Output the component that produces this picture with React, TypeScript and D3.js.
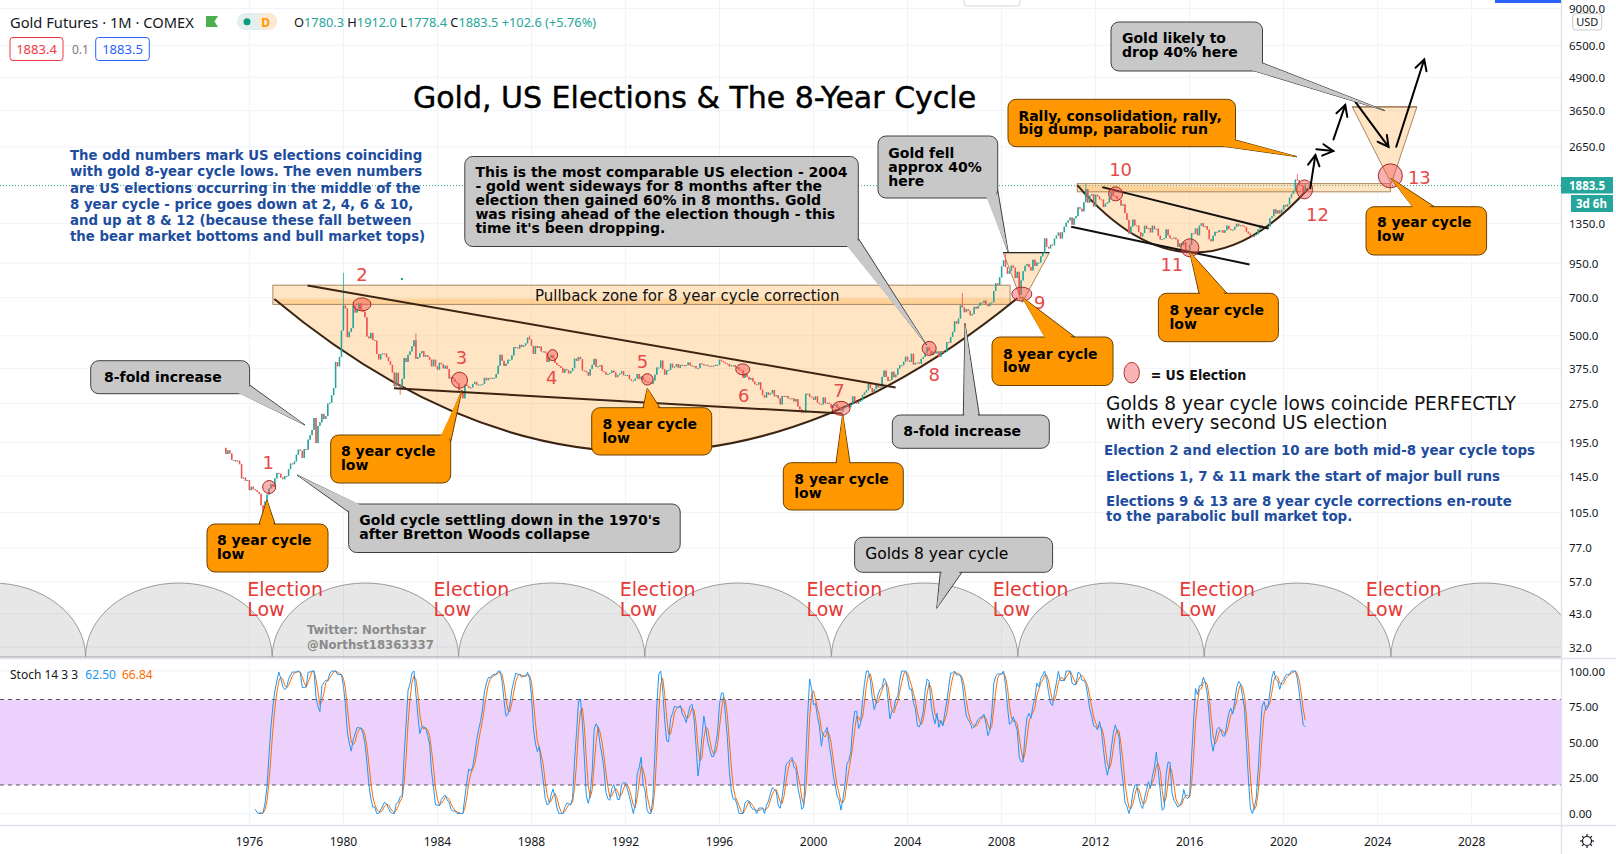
import React from 'react';
import * as d3 from 'd3';

const W = 1616;
const H = 854;

// ---- data (monthly closes, COMEX gold) ----
const firstYear = 1975;
const firstOpen = 186;
const closes1970s = [
  [176, 182, 177, 167, 167, 165, 166, 161, 142, 143, 139, 140],
  [128, 132, 129, 128, 126, 124, 112, 104, 116, 123, 130, 135],
  [132, 142, 149, 148, 143, 141, 145, 145, 154, 162, 161, 165],
  [175, 183, 181, 170, 184, 183, 200, 208, 218, 242, 194, 226],
  [233, 251, 240, 246, 275, 277, 296, 315, 397, 382, 415, 524],
];
const closes1980s = [
  [653, 637, 494, 518, 535, 653, 614, 631, 666, 629, 619, 589],
  [497, 489, 513, 482, 479, 426, 406, 425, 428, 427, 414, 400],
  [387, 362, 320, 361, 325, 317, 342, 411, 397, 423, 436, 456],
  [481, 408, 414, 429, 437, 416, 422, 415, 405, 382, 405, 382],
  [371, 394, 389, 375, 384, 373, 343, 347, 341, 333, 329, 309],
  [306, 288, 325, 321, 316, 317, 327, 333, 324, 325, 325, 327],
  [345, 338, 344, 345, 343, 345, 357, 384, 423, 401, 383, 391],
  [405, 405, 421, 453, 451, 447, 462, 453, 459, 468, 492, 484],
  [458, 426, 457, 449, 455, 436, 436, 430, 397, 413, 422, 410],
  [394, 387, 383, 377, 361, 373, 369, 359, 366, 376, 409, 401],
];
const closes1990s = [
  [415, 407, 368, 367, 363, 352, 373, 387, 408, 380, 382, 386],
  [366, 363, 355, 357, 360, 368, 362, 347, 354, 358, 366, 353],
  [354, 354, 341, 337, 337, 343, 357, 341, 349, 339, 334, 333],
  [330, 327, 337, 355, 378, 378, 402, 372, 355, 369, 370, 391],
  [378, 381, 390, 377, 387, 386, 383, 386, 395, 385, 383, 383],
  [375, 376, 392, 389, 385, 387, 383, 382, 384, 383, 387, 387],
  [405, 400, 396, 392, 390, 382, 385, 386, 379, 379, 371, 369],
  [345, 358, 348, 340, 345, 334, 326, 325, 332, 311, 296, 290],
  [304, 297, 301, 310, 293, 296, 288, 273, 294, 292, 294, 288],
  [287, 288, 280, 286, 268, 261, 256, 254, 300, 300, 292, 290],
];
const closes2000s = [
  [284, 293, 277, 274, 273, 290, 276, 277, 274, 265, 270, 273],
  [265, 267, 258, 264, 267, 271, 266, 273, 293, 279, 275, 279],
  [283, 297, 303, 309, 327, 315, 304, 312, 324, 317, 319, 348],
  [368, 348, 336, 339, 364, 347, 355, 375, 385, 386, 398, 416],
  [402, 397, 427, 388, 394, 395, 391, 408, 415, 429, 452, 438],
  [422, 435, 428, 436, 416, 437, 430, 434, 473, 470, 495, 518],
  [569, 556, 582, 655, 643, 616, 633, 624, 599, 606, 646, 636],
  [651, 670, 669, 682, 660, 650, 668, 673, 743, 795, 783, 838],
  [923, 975, 917, 865, 887, 930, 913, 833, 880, 718, 816, 884],
  [928, 942, 916, 891, 979, 927, 955, 955, 1008, 1040, 1182, 1097],
];
const closes2010s = [
  [1081, 1118, 1113, 1180, 1212, 1245, 1181, 1248, 1309, 1357, 1385, 1421],
  [1333, 1411, 1439, 1556, 1536, 1500, 1628, 1826, 1620, 1724, 1746, 1566],
  [1738, 1711, 1669, 1664, 1560, 1604, 1622, 1692, 1776, 1719, 1714, 1676],
  [1664, 1579, 1596, 1476, 1392, 1234, 1312, 1395, 1327, 1323, 1250, 1202],
  [1240, 1322, 1284, 1296, 1246, 1322, 1282, 1287, 1210, 1171, 1175, 1184],
  [1279, 1213, 1183, 1182, 1190, 1172, 1095, 1132, 1114, 1142, 1065, 1061],
  [1116, 1238, 1234, 1291, 1215, 1322, 1351, 1311, 1317, 1277, 1173, 1152],
  [1211, 1253, 1249, 1269, 1269, 1242, 1270, 1322, 1284, 1271, 1276, 1309],
  [1345, 1318, 1327, 1318, 1305, 1254, 1233, 1207, 1196, 1215, 1226, 1283],
  [1325, 1316, 1298, 1286, 1310, 1413, 1437, 1529, 1472, 1514, 1473, 1523],
];
const closes2020s = [
  [1588, 1566, 1596, 1694, 1751, 1800, 1986, 1978, 1895, 1880, 1780, 1883.5],
];
// wicks that stick out of the bodies
const wickHighs = [
  ['1980-01', 873], ['1983-02', 511], ['1987-12', 502], ['2006-05', 730], ['2008-03', 1033],
  ['2011-08', 1911], ['2012-10', 1796], ['2020-08', 2089], ['2020-12', 1912],
];
const wickLows = [
  ['1976-08', 103], ['1982-06', 297], ['1999-07', 252], ['2001-04', 255],
  ['2008-10', 681], ['2015-12', 1045], ['2020-12', 1778.4],
];

const yearTicks = [1976, 1980, 1984, 1988, 1992, 1996, 2000, 2004, 2008, 2012, 2016, 2020, 2024, 2028];
const priceTicks = [9000, 6500, 4900, 3650, 2650, 1350, 950, 700, 500, 375, 275, 195, 145, 105, 77, 57, 43, 32];
const stochTicks = [100, 75, 50, 25, 0];

// election markers (date, price) and their numbers
const electionDates = [1976.84, 1980.79, 1984.94, 1988.9, 1992.93, 1996.99, 2001.17, 2004.92, 2008.86, 2012.85, 2016.01, 2020.89, 2024.54];
const electionPrices = [131.6, 660, 338, 421.8, 340.5, 371.8, 263.6, 447.7, 722.6, 1751.7, 1087.7, 1821.5, 2053.5];
const electionRadii = [[6.5, 6.5], [9, 6.5], [8, 8], [5, 5.5], [5.7, 5.7], [7, 5.5], [9, 7], [7, 7], [10, 7], [7, 7], [9, 9], [8, 9.5], [12, 12]];
const labelOffsets = [[-1, -25], [0, -30], [2, -23], [-1, 22], [-5, -18], [1, 26], [-2, -18], [5, 26], [18, 8], [5, -24], [-18, 17], [13, 25], [29, 2]];

// 8-year time cycle lows (cusps of the grey arcs)
const cycleLows = [1961.1, 1969.03, 1976.97, 1984.9, 1992.82, 2000.76, 2008.69, 2016.62, 2024.56, 2032.5];

const stochK = 14;

// ---- scales ----
const PLOT_R = 1561;
const MAIN_B = 658;
const STOCH_B = 825;
const x = d3.scaleLinear().domain([1976, 2028]).range([249.4, 1471.7]);
const y = d3.scaleLog().domain([32, 6500]).range([647.2, 45.3]);
const ys = d3.scaleLinear().domain([0, 100]).range([813.5, 671]);

const UI = '"Noto Sans", "Open Sans", sans-serif';
const ANN = '"DejaVu Sans", sans-serif';
const ANN_C = '"DejaVu Sans Condensed", "DejaVu Sans", sans-serif';

function buildCandles() {
  const all = [...closes1970s, ...closes1980s, ...closes1990s, ...closes2000s, ...closes2010s, ...closes2020s];
  const hi = new Map(wickHighs as any);
  const lo = new Map(wickLows as any);
  const out: any[] = [];
  let prev = firstOpen;
  all.forEach((row, yi) => {
    row.forEach((c, m) => {
      const yr = firstYear + yi;
      const key = `${yr}-${String(m + 1).padStart(2, '0')}`;
      const o = prev;
      let h = Math.max(o, c);
      let l = Math.min(o, c);
      if (hi.has(key)) h = Math.max(h, hi.get(key) as number);
      if (lo.has(key)) l = Math.min(l, lo.get(key) as number);
      out.push({ t: yr + m / 12, o, h, l, c });
      prev = c;
    });
  });
  return out;
}

function stochastic(cs: any[]) {
  const raw = cs.map((d, i) => {
    if (i < stochK - 1) return null;
    const win = cs.slice(i - stochK + 1, i + 1);
    const hh = d3.max(win, (w) => w.h);
    const ll = d3.min(win, (w) => w.l);
    return hh === ll ? 50 : ((d.c - ll) / (hh - ll)) * 100;
  });
  const sma = (arr: any[]) =>
    arr.map((v, i) => {
      if (i < 2 || arr[i] == null || arr[i - 1] == null || arr[i - 2] == null) return null;
      return (arr[i] + arr[i - 1] + arr[i - 2]) / 3;
    });
  const k = sma(raw);
  const d = sma(k);
  return cs.map((c, i) => ({ t: c.t, k: k[i], d: d[i] }));
}

// callout boxes (layout in px)
const GRAY = { fill: '#c8c8c8', stroke: '#404040' };
const ORANGE = { fill: '#ff9800', stroke: '#6b4000' };
const callouts = [
  { ...ORANGE, x: 207, y: 524, w: 121, h: 48, tail: [[259, 524], [275, 524], [267, 500]], lx: 217, ly: [540, 553.5], lines: ['8 year cycle', 'low'] },
  { ...ORANGE, x: 330.7, y: 435, w: 120, h: 48, tail: [[443, 435], [450.7, 442], [462, 390]], lx: 341, ly: [451, 465], lines: ['8 year cycle', 'low'] },
  { ...ORANGE, x: 591.7, y: 407.7, w: 120, h: 47.3, tail: [[643, 407.7], [660, 407.7], [647.3, 388.3]], lx: 602.5, ly: [424, 437.7], lines: ['8 year cycle', 'low'] },
  { ...ORANGE, x: 783.3, y: 462.7, w: 120, h: 47.3, tail: [[836, 462.7], [850, 462.7], [842.7, 414]], lx: 794.3, ly: [479, 492.7], lines: ['8 year cycle', 'low'] },
  { ...ORANGE, x: 992, y: 337, w: 121, h: 48.5, tail: [[1045, 337], [1075, 337], [1022, 297]], lx: 1003, ly: [353.5, 367], lines: ['8 year cycle', 'low'] },
  { ...ORANGE, x: 1158.4, y: 293.3, w: 120, h: 48.4, tail: [[1199, 293.3], [1227, 293.3], [1189.6, 251.7]], lx: 1169.5, ly: [310, 324], lines: ['8 year cycle', 'low'] },
  { ...ORANGE, x: 1366, y: 206.7, w: 120.6, h: 48.3, tail: [[1412.6, 206.7], [1434.4, 206.7], [1391, 178.3]], lx: 1377, ly: [222, 236], lines: ['8 year cycle', 'low'] },
  { ...ORANGE, x: 1008, y: 99.3, w: 227.5, h: 47.4, tail: [[1226, 146.7], [1235.5, 140], [1297, 156.7]], lx: 1018.4, ly: [116, 129.3], lines: ['Rally, consolidation, rally,', 'big dump, parabolic run'] },
  { ...GRAY, x: 90.7, y: 360.7, w: 158.9, h: 33, tail: [[241, 393.7], [249.6, 385], [305, 425]], lx: 104, ly: [377], lines: ['8-fold increase'] },
  { ...GRAY, x: 348.6, y: 504, w: 331.6, h: 48.5, tail: [[357, 504], [348.6, 512], [297, 475]], lx: 359.3, ly: [520, 534], lines: ["Gold cycle settling down in the 1970's", 'after Bretton Woods collapse'] },
  { ...GRAY, x: 464.8, y: 156.5, w: 393.5, h: 90, tail: [[849.3, 246.5], [858.3, 238.3], [926.7, 345]], lx: 475.4, ly: [171.5, 185.7, 200, 214.2, 228], lines: ['This is the most comparable US election - 2004', '- gold went sideways for 8 months after the', 'election then gained 60% in 8 months. Gold', 'was rising ahead of the election though - this', "time it's been dropping."] },
  { ...GRAY, x: 878, y: 136, w: 119.7, h: 62, tail: [[988.3, 198], [997.7, 190], [1008.3, 252.7]], lx: 888.3, ly: [152.7, 166.7, 180.7], lines: ['Gold fell', 'approx 40%', 'here'] },
  { ...GRAY, x: 892.3, y: 415, w: 157, h: 33.3, tail: [[963.3, 415], [979.3, 415], [965, 323.3]], lx: 903.3, ly: [431], lines: ['8-fold increase'] },
  { ...GRAY, x: 854.6, y: 537.3, w: 198, h: 35, tail: [[940.3, 572.3], [962, 572.3], [936.7, 608.3]], lx: 865.3, ly: [554], lines: ['Golds 8 year cycle'], regular: true },
  { ...GRAY, x: 1111, y: 22, w: 151.5, h: 49, tail: [[1254.5, 71], [1262.5, 63], [1385, 110.7]], lx: 1122, ly: [38.3, 52.3], lines: ['Gold likely to', 'drop 40% here'] },
];

const leftNote = [
  'The odd numbers mark US elections coinciding',
  'with gold 8-year cycle lows. The even numbers',
  'are US elections occurring in the middle of the',
  '8 year cycle - price goes down at 2, 4, 6 & 10,',
  'and up at 8 & 12 (because these fall between',
  'the bear market bottoms and bull market tops)',
];
const rightBlue = [
  'Election 2 and election 10 are both mid-8 year cycle tops',
  'Elections 1, 7 & 11 mark the start of major bull runs',
  'Elections 9 & 13 are 8 year cycle corrections en-route',
  'to the parabolic bull market top.',
];

function Callout({ c }: any) {
  const pts = c.tail.map((p: number[]) => p.join(',')).join(' ');
  const cx = c.x + c.w / 2;
  const cy = c.y + c.h / 2;
  // base pushed a little into the box so the box border is hidden under the tail
  const inner = c.tail
    .map((p: number[], i: number) => {
      if (i === 2) return p.join(',');
      const dx = cx - p[0];
      const dy = cy - p[1];
      const len = Math.hypot(dx, dy) || 1;
      return `${p[0] + (dx / len) * 2.5},${p[1] + (dy / len) * 2.5}`;
    })
    .join(' ');
  return (
    <g>
      <polygon points={pts} fill={c.fill} stroke={c.stroke} strokeWidth={1} strokeLinejoin="round" />
      <rect x={c.x} y={c.y} width={c.w} height={c.h} rx={8} fill={c.fill} stroke={c.stroke} strokeWidth={1} />
      <polygon points={inner} fill={c.fill} />
      {c.lines.map((t: string, i: number) => (
        <text key={i} x={c.lx} y={c.ly[i]} dominantBaseline="central" fontFamily={ANN}
          fontSize={c.regular ? 15.5 : 14} fontWeight={c.regular ? 'normal' : 'bold'} fill="#000">
          {t}
        </text>
      ))}
    </g>
  );
}

function Arrow({ a, b }: any) {
  const x1 = x(a[0]), y1 = y(a[1]), x2 = x(b[0]), y2 = y(b[1]);
  const ang = Math.atan2(y2 - y1, x2 - x1);
  const L = 12, sp = 0.5;
  const h1 = [x2 - L * Math.cos(ang - sp), y2 - L * Math.sin(ang - sp)];
  const h2 = [x2 - L * Math.cos(ang + sp), y2 - L * Math.sin(ang + sp)];
  return (
    <g stroke="#000" strokeWidth={2} fill="none" strokeLinecap="round">
      <line x1={x1} y1={y1} x2={x2} y2={y2} />
      <polyline points={`${h1.join(',')} ${x2},${y2} ${h2.join(',')}`} />
    </g>
  );
}

// drawings tied to the chart, in (year, price)
const cup1 = { band: [1977.0, 2008.36, 660, 782], arc: [[1977.06, 691.5], [1992.66, 46.4], [2008.68, 697.6]] };
const cup2 = { band: [2011.22, 2024.54, 1783, 1917], arc: [[2011.22, 1892], [2016.11, 584.7], [2021.05, 1836]] };
const trendLines = [
  { a: [1978.47, 779], b: [2003.49, 317], color: '#3b2412' },
  { a: [1982.15, 315], b: [2001.22, 251.7], color: '#3b2412' },
  { a: [2012.28, 1858.6], b: [2019.35, 1288.7], color: '#111' },
  { a: [2010.96, 1308.9], b: [2018.55, 937.9], color: '#111' },
];
const funnels = [
  [[2008.07, 1042.6], [2010.03, 1042.6], [2008.88, 672]],
  [[2022.92, 3775], [2025.67, 3775], [2024.58, 1920]],
];
const arrows = [
  [[2021.13, 1842], [2021.35, 2465]],
  [[2021.39, 2598], [2022.11, 2554]],
  [[2022.12, 2831], [2022.62, 3834]],
  [[2023.05, 3946], [2024.46, 2653]],
  [[2024.79, 2653], [2025.98, 5738]],
];

const PEACH = 'rgba(255,160,40,0.28)';

function Cup({ cup }: any) {
  const [t0, t1, p0, p1] = cup.band;
  const [a, c, b] = cup.arc;
  const path = d3.path();
  path.moveTo(x(a[0]), y(a[1]));
  path.quadraticCurveTo(x(c[0]), y(c[1]), x(b[0]), y(b[1]));
  const arcD = path.toString();
  return (
    <g>
      <path d={arcD + 'Z'} fill={PEACH} stroke="none" />
      <rect x={x(t0)} y={y(p1)} width={x(t1) - x(t0)} height={y(p0) - y(p1)} fill={PEACH} stroke="#a98660" strokeWidth={1} />
      <path d={arcD} fill="none" stroke="#3b2412" strokeWidth={2} />
    </g>
  );
}

export default function App() {
  const candles = buildCandles();
  const st = stochastic(candles);
  const kLine = d3.line<any>().defined((d) => d.k != null).x((d) => x(d.t)).y((d) => ys(d.k));
  const dLine = d3.line<any>().defined((d) => d.d != null).x((d) => x(d.t)).y((d) => ys(d.d));
  const last = candles[candles.length - 1];

  return (
    <svg width={W} height={H} viewBox={`0 0 ${W} ${H}`} style={{ position: 'absolute', left: 0, top: 0, background: '#fff' }}>
      <defs>
        <clipPath id="mainClip"><rect x={0} y={0} width={PLOT_R} height={MAIN_B} /></clipPath>
        <clipPath id="stochClip"><rect x={0} y={MAIN_B + 1} width={PLOT_R} height={STOCH_B - MAIN_B - 1} /></clipPath>
      </defs>
      <rect x={0} y={0} width={W} height={H} fill="#fff" />

      {/* grid */}
      <g stroke="#f0f3fa" strokeWidth={1}>
        {yearTicks.map((t) => <line key={t} x1={x(t)} x2={x(t)} y1={0} y2={STOCH_B} />)}
        {priceTicks.map((p) => <line key={p} x1={0} x2={PLOT_R} y1={y(p)} y2={y(p)} />)}
        {stochTicks.map((s) => <line key={s} x1={0} x2={PLOT_R} y1={ys(s)} y2={ys(s)} />)}
      </g>

      <g clipPath="url(#mainClip)">
        {/* 8 year time cycles */}
        {cycleLows.slice(0, -1).map((c, i) => {
          const x0 = x(c), x1 = x(cycleLows[i + 1]);
          const rx = (x1 - x0) / 2;
          return <path key={c} d={`M${x0},657 A${rx},74 0 0 1 ${x1},657 Z`} fill="rgba(0,0,0,0.095)" stroke="#9a9a9a" strokeWidth={1} />;
        })}
        {cycleLows.slice(2, -1).map((c) => (
          <text key={c} fontFamily={ANN} fontSize={19} fill="#e53935">
            <tspan x={x(c) - 25} y={589} dominantBaseline="central">Election</tspan>
            <tspan x={x(c) - 25} y={609} dominantBaseline="central">Low</tspan>
          </text>
        ))}
        <text fontFamily={ANN_C} fontWeight="bold" fontSize={13} fill="#8a8a8a">
          <tspan x={307} y={629.5} dominantBaseline="central">Twitter: Northstar</tspan>
          <tspan x={307} y={644} dominantBaseline="central">@Northst18363337</tspan>
        </text>

        {/* last price line */}
        <line x1={0} x2={PLOT_R} y1={y(last.c)} y2={y(last.c)} stroke="#26a69a" strokeWidth={1} strokeDasharray="1,2" />

        <Cup cup={cup1} />
        <Cup cup={cup2} />
        {funnels.map((f, i) => (
          <g key={i}>
            <polygon points={f.map((p) => `${x(p[0])},${y(p[1])}`).join(' ')} fill={PEACH} stroke="#a98660" strokeWidth={1} />
            <line x1={x(f[0][0])} x2={x(f[1][0])} y1={y(f[0][1])} y2={y(f[1][1])} stroke={i === 0 ? '#222' : '#9c7b5a'} strokeWidth={1.3} />
          </g>
        ))}
        <text x={x(1988.15)} y={y(712)} dominantBaseline="central" fontFamily={ANN} fontSize={15} fill="#111">
          Pullback zone for 8 year cycle correction
        </text>

        {/* candles */}
        {candles.map((d, i) => {
          const up = d.c >= d.o;
          const col = up ? '#26a69a' : '#ef5350';
          const top = y(Math.max(d.o, d.c));
          const bh = Math.max(1, y(Math.min(d.o, d.c)) - top);
          const cx = x(d.t);
          return (
            <g key={i}>
              <line x1={cx} x2={cx} y1={y(d.h)} y2={y(d.l)} stroke={col} strokeWidth={0.8} />
              <rect x={cx - 0.75} y={top} width={1.5} height={bh} fill={col} />
            </g>
          );
        })}
        <circle cx={402} cy={279} r={1.2} fill="#26a69a" />

        {trendLines.map((l, i) => (
          <line key={i} x1={x(l.a[0])} y1={y(l.a[1])} x2={x(l.b[0])} y2={y(l.b[1])} stroke={l.color} strokeWidth={2} />
        ))}

        {/* election markers */}
        {electionDates.map((t, i) => {
          const cx = x(t), cy = y(electionPrices[i]);
          return (
            <g key={i}>
              <ellipse cx={cx} cy={cy} rx={electionRadii[i][0]} ry={electionRadii[i][1]} fill="rgba(244,81,81,0.45)" stroke="#a32a2a" strokeWidth={1} />
              <text x={cx + labelOffsets[i][0]} y={cy + labelOffsets[i][1]} textAnchor="middle" dominantBaseline="central"
                fontFamily={ANN} fontSize={18} fill="#e8494a">{i + 1}</text>
            </g>
          );
        })}

        {arrows.map((a, i) => <Arrow key={i} a={a[0]} b={a[1]} />)}

        {callouts.map((c, i) => <Callout key={i} c={c} />)}

        {/* texts */}
        <text x={413} y={108} fontFamily={ANN} fontSize={30} fill="#000" stroke="#000" strokeWidth={0.45}>Gold, US Elections &amp; The 8-Year Cycle</text>
        {leftNote.map((t, i) => (
          <text key={i} x={70} y={155.7 + i * 16.2} dominantBaseline="central" fontFamily={ANN} fontWeight="bold" fontSize={13.3} fill="#1e4d9e">{t}</text>
        ))}
        <ellipse cx={1131.7} cy={372.7} rx={7.7} ry={10.3} fill="#f8b4b4" stroke="#b03030" strokeWidth={1} />
        <text x={1150.7} y={375} dominantBaseline="central" fontFamily={ANN_C} fontWeight="bold" fontSize={14} fill="#111">= US Election</text>
        <text fontFamily={ANN} fontSize={18.6} fill="#111">
          <tspan x={1106} y={403.3} dominantBaseline="central">Golds 8 year cycle lows coincide PERFECTLY</tspan>
          <tspan x={1106} y={422.7} dominantBaseline="central">with every second US election</tspan>
        </text>
        {rightBlue.map((t, i) => (
          <text key={i} x={i === 0 ? 1104 : 1106} y={[450.7, 476.7, 501, 516.7][i]} dominantBaseline="central"
            fontFamily={ANN} fontWeight="bold" fontSize={13.4} fill="#1e4d9e">{t}</text>
        ))}
      </g>

      {/* stoch pane */}
      <rect x={0} y={ys(80)} width={PLOT_R} height={ys(20) - ys(80)} fill="#ebd1fb" />
      {[80, 20].map((v) => (
        <line key={v} x1={0} x2={PLOT_R} y1={ys(v)} y2={ys(v)} stroke="#555" strokeWidth={1} strokeDasharray="4,4" />
      ))}
      <g clipPath="url(#stochClip)" fill="none" strokeWidth={1}>
        <path d={dLine(st) || ''} stroke="#ff6d00" />
        <path d={kLine(st) || ''} stroke="#2196f3" />
      </g>
      <text x={10} y={673.7} dominantBaseline="central" fontFamily={UI} fontSize={12}>
        <tspan fill="#131722">Stoch 14 3 3 </tspan>
        <tspan fill="#2196f3" dx={4}>62.50</tspan>
        <tspan fill="#ff6d00" dx={6}>66.84</tspan>
      </text>

      {/* pane borders */}
      <line x1={0} x2={W} y1={MAIN_B + 0.5} y2={MAIN_B + 0.5} stroke="#e0e3eb" strokeWidth={1.5} />
      <line x1={0} x2={W} y1={STOCH_B + 0.5} y2={STOCH_B + 0.5} stroke="#e0e3eb" strokeWidth={1.5} />
      <line x1={PLOT_R + 0.5} x2={PLOT_R + 0.5} y1={0} y2={H} stroke="#e0e3eb" strokeWidth={1.5} />

      {/* price axis */}
      {priceTicks.map((p) => (
        <text key={p} x={1569} y={y(p)} dominantBaseline="central" fontFamily={UI} fontSize={11.5} fill="#131722">{p.toFixed(1)}</text>
      ))}
      {stochTicks.map((s) => (
        <text key={s} x={1569} y={ys(s)} dominantBaseline="central" fontFamily={UI} fontSize={11.5} fill="#131722">{s.toFixed(2)}</text>
      ))}
      <rect x={1572.7} y={13.6} width={29} height={16.4} rx={3} fill="#fff" stroke="#c9cbd1" />
      <text x={1587.2} y={21.8} textAnchor="middle" dominantBaseline="central" fontFamily={UI} fontSize={11} fill="#131722">USD</text>
      <rect x={1561} y={177} width={52} height={16.5} fill="#26a69a" />
      <text x={1569} y={185.3} dominantBaseline="central" fontFamily={UI} fontWeight="bold" fontSize={11.5} fill="#fff">{last.c.toFixed(1)}</text>
      <rect x={1571} y={195} width={42} height={17} fill="#26a69a" />
      <text x={1576} y={203.5} dominantBaseline="central" fontFamily={UI} fontWeight="bold" fontSize={11.5} fill="#fff">3d 6h</text>

      {/* time axis */}
      {yearTicks.map((t) => (
        <text key={t} x={x(t)} y={841.7} textAnchor="middle" dominantBaseline="central" fontFamily={UI} fontSize={12} fill="#131722">{t}</text>
      ))}
      <g transform="translate(1587,841)" stroke="#131722" strokeWidth={1.2} fill="none">
        <circle r={4.5} />
        {d3.range(8).map((i) => {
          const a = (i * Math.PI) / 4;
          return <line key={i} x1={4.5 * Math.cos(a)} y1={4.5 * Math.sin(a)} x2={7 * Math.cos(a)} y2={7 * Math.sin(a)} />;
        })}
      </g>

      {/* top bits */}
      <rect x={964} y={-4} width={56} height={10} rx={3} fill="#fff" stroke="#d1d4dc" />
      <rect x={1495} y={0} width={66} height={3} fill="#2962ff" />

      {/* legend */}
      <text x={10} y={21.7} dominantBaseline="central" fontFamily={UI} fontSize={14.7} fill="#131722">Gold Futures · 1M · COMEX</text>
      <polygon points="206,16 218,16 214.5,21.5 218,27 206,27" fill="#4caf50" />
      <rect x={237} y={13} width={40} height={17} rx={8.5} fill="#e3efed" />
      <rect x={258} y={13} width={19} height={17} rx={8.5} fill="#fde9d2" />
      <circle cx={247} cy={21.7} r={3.5} fill="#089981" />
      <text x={265.7} y={22} textAnchor="middle" dominantBaseline="central" fontFamily={UI} fontWeight="bold" fontSize={12} fill="#ff9800">D</text>
      <text x={294} y={22} dominantBaseline="central" fontFamily={UI} fontSize={12.8} fill="#26a69a">
        <tspan fill="#131722">O</tspan>1780.3 <tspan fill="#131722">H</tspan>1912.0 <tspan fill="#131722">L</tspan>1778.4 <tspan fill="#131722">C</tspan>1883.5 +102.6 (+5.76%)
      </text>
      <rect x={10} y={37.5} width={53} height={23} rx={3} fill="#fff" stroke="#f23645" />
      <text x={36.5} y={49} textAnchor="middle" dominantBaseline="central" fontFamily={UI} fontSize={13} fill="#f23645">1883.4</text>
      <text x={72} y={49} dominantBaseline="central" fontFamily={UI} fontSize={12} fill="#787b86">0.1</text>
      <rect x={95.7} y={37.5} width={53.6} height={23} rx={3} fill="#fff" stroke="#2962ff" />
      <text x={122.5} y={49} textAnchor="middle" dominantBaseline="central" fontFamily={UI} fontSize={13} fill="#2962ff">1883.5</text>
    </svg>
  );
}
